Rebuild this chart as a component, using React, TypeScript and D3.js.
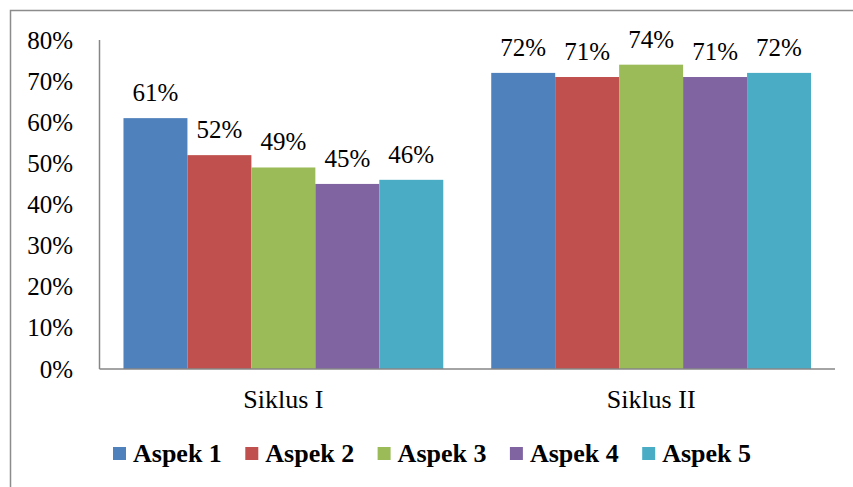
import { useEffect, useRef } from 'react';
import * as d3 from 'd3';

const categories = ['Siklus I', 'Siklus II'];
const seriesNames = ['Aspek 1', 'Aspek 2', 'Aspek 3', 'Aspek 4', 'Aspek 5'];
const siklus1 = [61, 52, 49, 45, 46];
const siklus2 = [72, 71, 74, 71, 72];
const yTicks = [0, 10, 20, 30, 40, 50, 60, 70, 80];
const colors = ['#4F81BD', '#C0504D', '#9BBB59', '#8064A2', '#4BACC6'];

const W = 853;
const H = 487;

export default function App() {
  const svgRef = useRef<SVGSVGElement>(null);

  useEffect(() => {
    if (!svgRef.current) return;
    const svg = d3.select(svgRef.current);
    svg.selectAll('*').remove();

    const values = [siklus1, siklus2];

    // outer border of the chart frame
    svg
      .append('rect')
      .attr('x', 10.5)
      .attr('y', 10.5)
      .attr('width', W + 20)
      .attr('height', H + 20)
      .attr('fill', 'none')
      .attr('stroke', '#8c8c8c')
      .attr('stroke-width', 1.5);

    const left = 99.5;
    const right = 835;
    const top = 40;
    const bottom = 369;

    const x = d3.scaleBand<string>().domain(categories).range([left, right]).paddingInner(0.1304).paddingOuter(0.0652);
    const x1 = d3.scaleBand<string>().domain(seriesNames).range([0, x.bandwidth()]);
    const y = d3.scaleLinear().domain([0, 80]).range([bottom, top]);

    // y tick labels
    svg
      .append('g')
      .selectAll('text')
      .data(yTicks)
      .enter()
      .append('text')
      .attr('x', 73)
      .attr('y', (d) => y(d))
      .attr('dy', '0.34em')
      .attr('text-anchor', 'end')
      .style('font-size', '25px')
      .attr('fill', '#000')
      .text((d) => `${d}%`);

    // bars
    const groups = svg
      .append('g')
      .selectAll('g')
      .data(categories)
      .enter()
      .append('g')
      .attr('transform', (d) => `translate(${x(d)},0)`);

    groups
      .selectAll('rect')
      .data((_, i) => values[i].map((v, j) => ({ v, j })))
      .enter()
      .append('rect')
      .attr('x', (d) => x1(seriesNames[d.j])!)
      .attr('y', (d) => y(d.v))
      .attr('width', x1.bandwidth())
      .attr('height', (d) => bottom - y(d.v))
      .attr('fill', (d) => colors[d.j]);

    groups
      .selectAll('text')
      .data((_, i) => values[i].map((v, j) => ({ v, j })))
      .enter()
      .append('text')
      .attr('x', (d) => x1(seriesNames[d.j])! + x1.bandwidth() / 2)
      .attr('y', (d) => y(d.v) - 17)
      .attr('text-anchor', 'middle')
      .style('font-size', '25px')
      .attr('fill', '#000')
      .text((d) => `${d.v}%`);

    // axes lines
    svg
      .append('line')
      .attr('x1', left)
      .attr('x2', left)
      .attr('y1', top)
      .attr('y2', bottom)
      .attr('stroke', '#868686')
      .attr('stroke-width', 1.5);
    svg
      .append('line')
      .attr('x1', left)
      .attr('x2', right)
      .attr('y1', bottom)
      .attr('y2', bottom)
      .attr('stroke', '#868686')
      .attr('stroke-width', 1.5);

    // category labels
    svg
      .append('g')
      .selectAll('text')
      .data(categories)
      .enter()
      .append('text')
      .attr('x', (d) => x(d)! + x.bandwidth() / 2)
      .attr('y', 408)
      .attr('text-anchor', 'middle')
      .style('font-size', '26px')
      .attr('fill', '#000')
      .text((d) => d);

    // legend
    const legend = svg
      .append('g')
      .selectAll('g')
      .data(seriesNames)
      .enter()
      .append('g')
      .attr('transform', (_, i) => `translate(${113 + i * 132.3},453)`);
    legend
      .append('rect')
      .attr('x', 0)
      .attr('y', -6)
      .attr('width', 13)
      .attr('height', 13)
      .attr('fill', (_, i) => colors[i]);
    legend
      .append('text')
      .attr('x', 20)
      .attr('y', 0)
      .attr('dy', '0.35em')
      .style('font-size', '26px')
      .style('font-weight', 'bold')
      .attr('fill', '#000')
      .text((d) => d);
  }, []);

  return (
    <svg
      ref={svgRef}
      width={W}
      height={H}
      style={{ position: 'absolute', left: 0, top: 0, background: '#fff', fontFamily: 'Liberation Serif' }}
    />
  );
}
